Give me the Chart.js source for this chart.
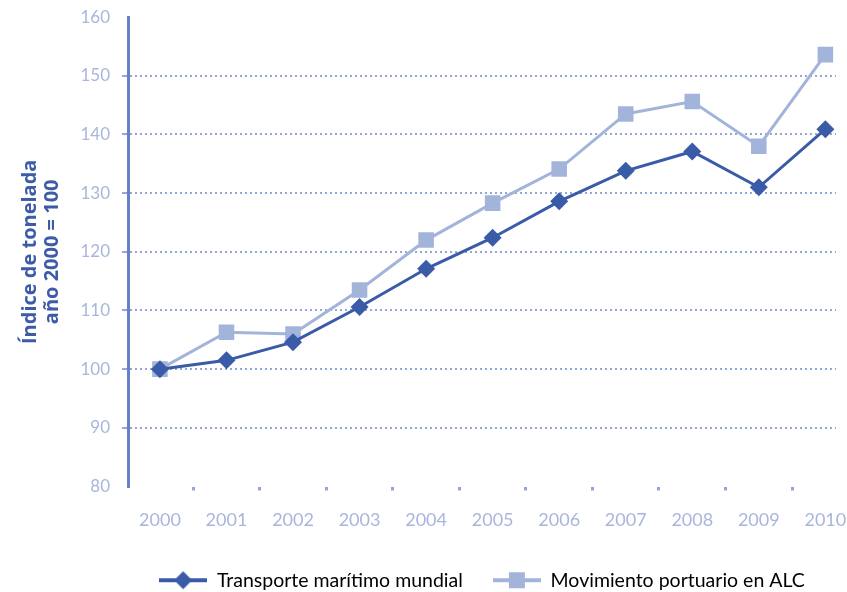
<!DOCTYPE html>
<html>
<head>
<meta charset="utf-8">
<script src="https://cdn.jsdelivr.net/npm/chart.js@4"></script>
<style>
  html, body { margin: 0; padding: 0; background: #ffffff; }
  #wrap { width: 847px; height: 592px; }
</style>
</head>
<body>
<div id="wrap"><canvas id="myChart" width="847" height="592"></canvas></div>
<script>
var years = [2000, 2001, 2002, 2003, 2004, 2005, 2006, 2007, 2008, 2009, 2010];
var transporte = [100, 101.5, 104.6, 110.6, 117.1, 122.4, 128.6, 133.8, 137.1, 131.0, 140.9];
var movimiento = [100, 106.3, 106.0, 113.5, 122.0, 128.3, 134.1, 143.5, 145.6, 138.0, 153.6];
var seriesNames = ['Transporte marítimo mundial', 'Movimiento portuario en ALC'];
var yTicks = [80, 90, 100, 110, 120, 130, 140, 150, 160];

var darkBlue = '#3a5ba8';
var lightBlue = '#a3b4db';
var tickColor = '#a9b6db';
var gridColor = '#93a6d6';

var xMin = 1999.52, xMax = 2010.16;

// legend icons: line with marker in the middle
function makeIcon(color, shape) {
    var c = document.createElement('canvas');
    c.width = 48; c.height = 20;
    var g = c.getContext('2d');
    g.strokeStyle = color;
    g.lineWidth = 4;
    g.beginPath();
    g.moveTo(0, 10); g.lineTo(48, 10);
    g.stroke();
    g.fillStyle = color;
    g.beginPath();
    if (shape === 'diamond') {
        g.moveTo(24, 1); g.lineTo(33, 10); g.lineTo(24, 19); g.lineTo(15, 10);
    } else {
        g.rect(16, 2, 16, 16);
    }
    g.closePath();
    g.fill();
    return c;
}
var icons = [makeIcon(darkBlue, 'diamond'), makeIcon(lightBlue, 'square')];

function toPoints(arr) {
    return arr.map(function (v, i) { return { x: years[i], y: v }; });
}

function isHalf(v) {
    return Math.abs(v - Math.floor(v) - 0.5) < 0.001;
}

var ctx = document.getElementById('myChart');
var myChart = new Chart(ctx, {
    type: 'line',
    data: {
        datasets: [
            {
                label: seriesNames[0],
                data: toPoints(transporte),
                borderColor: darkBlue,
                backgroundColor: darkBlue,
                borderWidth: 3,
                pointStyle: 'rectRot',
                pointRadius: 9,
                pointBorderWidth: 0,
                lineTension: 0,
                order: 1
            },
            {
                label: seriesNames[1],
                data: toPoints(movimiento),
                borderColor: lightBlue,
                backgroundColor: lightBlue,
                borderWidth: 3,
                pointStyle: 'rect',
                pointRadius: 11,
                pointBorderWidth: 0,
                lineTension: 0,
                order: 2
            }
        ]
    },
    options: {
        responsive: false,
        animation: false,
        layout: { padding: { top: 12, right: 0, bottom: -8, left: 0 } },
        scales: {
            x: {
                type: 'linear',
                min: xMin,
                max: xMax,
                afterBuildTicks: function (scale) {
                    var t = [];
                    years.forEach(function (y, i) {
                        t.push({ value: y });
                        if (i < years.length - 1) t.push({ value: y + 0.5 });
                    });
                    t.push({ value: xMax });
                    scale.ticks = t;
                },
                afterFit: function (scale) { scale.height = 54; },
                ticks: {
                    autoSkip: false,
                    maxRotation: 0,
                    padding: 0,
                    color: tickColor,
                    font: { family: 'Lato', size: 18, lineHeight: '60px' },
                    callback: function (value) {
                        return years.indexOf(value) >= 0 ? String(value) : '';
                    }
                },
                grid: {
                    drawOnChartArea: false,
                    drawTicks: true,
                    tickLength: 4,
                    tickWidth: 3,
                    color: function (c) {
                        return c.tick && isHalf(c.tick.value) ? gridColor : 'rgba(0,0,0,0)';
                    }
                },
                border: { display: false }
            },
            y: {
                min: 80,
                max: 160,
                afterBuildTicks: function (scale) {
                    scale.ticks = yTicks.map(function (v) { return { value: v }; });
                },
                afterFit: function (scale) { scale.width = 128; },
                ticks: {
                    padding: 12,
                    color: tickColor,
                    font: { family: 'Lato', size: 17, lineHeight: 0.6 }
                },
                grid: {
                    tickLength: 6,
                    lineWidth: 2,
                    color: function (c) {
                        var v = c.tick && c.tick.value;
                        return (v === 80 || v === 160) ? 'rgba(0,0,0,0)' : gridColor;
                    }
                },
                border: { display: true, color: '#6482c4', width: 3, dash: [2, 3] },
                title: {
                    display: true,
                    text: ['Índice de tonelada', 'año 2000 = 100'],
                    color: '#3d5ba6',
                    font: { family: 'Open Sans', size: 20, weight: 'bold', lineHeight: 1.1 },
                    padding: { top: 19, bottom: 0 }
                }
            }
        },
        plugins: {
            legend: {
                position: 'bottom',
                fullSize: false,
                labels: {
                    usePointStyle: true,
                    pointStyleWidth: 48,
                    padding: 30,
                    color: '#4f6cb2',
                    font: { family: 'Lato', size: 19.5 },
                    generateLabels: function (chart) {
                        return chart.data.datasets.map(function (ds, i) {
                            return {
                                text: ds.label,
                                pointStyle: icons[i],
                                fillStyle: ds.borderColor,
                                strokeStyle: 'rgba(0,0,0,0)',
                                lineWidth: 0,
                                hidden: false,
                                datasetIndex: i
                            };
                        });
                    }
                }
            },
            tooltip: { enabled: false }
        }
    }
});
</script>
</body>
</html>
